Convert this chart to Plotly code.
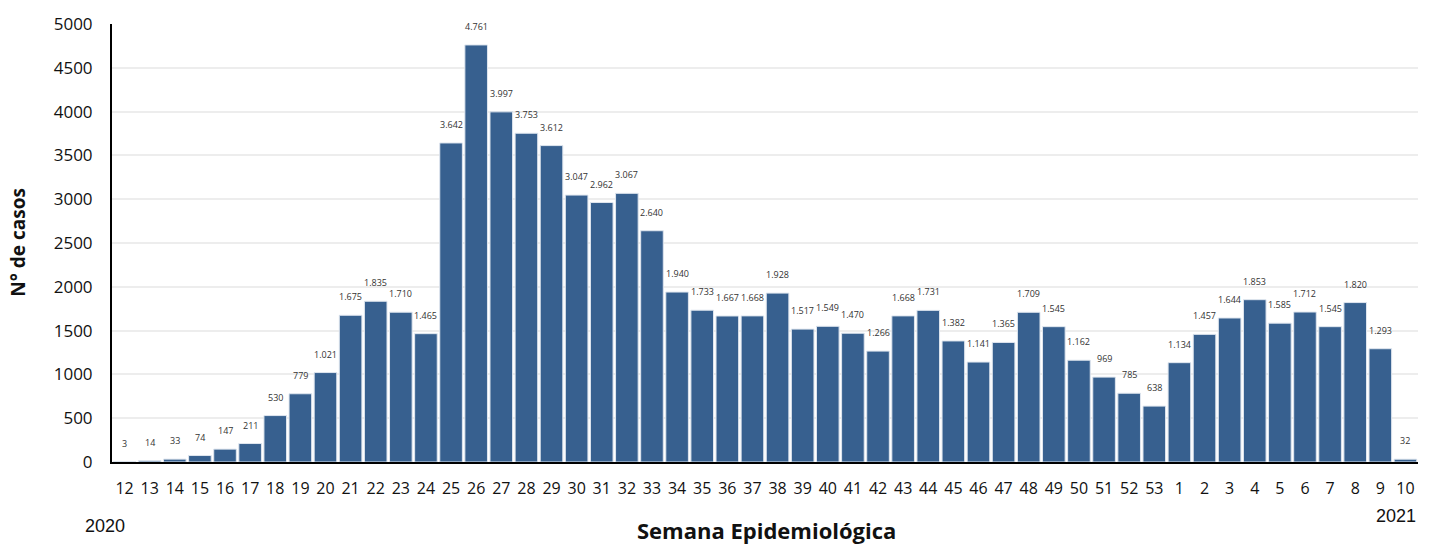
import plotly.graph_objects as go

weeks = [str(w) for w in range(12, 54)] + [str(w) for w in range(1, 11)]
cases = [3, 14, 33, 74, 147, 211, 530, 779, 1021, 1675, 1835, 1710, 1465, 3642, 4761,
         3997, 3753, 3612, 3047, 2962, 3067, 2640, 1940, 1733, 1667, 1668, 1928, 1517,
         1549, 1470, 1266, 1668, 1731, 1382, 1141, 1365, 1709, 1545, 1162, 969, 785, 638,
         1134, 1457, 1644, 1853, 1585, 1712, 1545, 1820, 1293, 32]
years = ["2020", "2021"]

xs = list(range(len(weeks)))
labels = [f"{v:,}".replace(",", ".") for v in cases]

fig = go.Figure()
fig.add_trace(go.Bar(
    x=xs, y=cases,
    marker=dict(color="#37608f", line=dict(color="#dfe6ef", width=1)),
    hoverinfo="x+y",
))

for x, v, t in zip(xs, cases, labels):
    fig.add_annotation(x=x, y=v, text=t, showarrow=False, yanchor="bottom", yshift=10,
                       font=dict(family="Open Sans", size=9, color="#333"))

fig.add_annotation(xref="paper", yref="paper", x=-0.0054, y=-0.145, text=years[0],
                   showarrow=False, xanchor="center", yanchor="middle",
                   font=dict(family="Liberation Sans", size=18, color="#111"))
fig.add_annotation(xref="paper", yref="paper", x=1.0, y=-0.124, text=years[1],
                   showarrow=False, xanchor="right", yanchor="middle",
                   font=dict(family="Liberation Sans", size=18, color="#111"))
fig.add_annotation(xref="paper", yref="paper", x=0.501, y=-0.156, text="<b>Semana Epidemiológica</b>",
                   showarrow=False, xanchor="center", yanchor="middle",
                   font=dict(family="Open Sans", size=22, color="#111"))
fig.add_annotation(xref="paper", yref="paper", x=-0.0715, y=0.502, text="<b>N° de casos</b>",
                   showarrow=False, textangle=-90, xanchor="center", yanchor="middle",
                   font=dict(family="Open Sans", size=19, color="#111"))

fig.update_layout(
    width=1433, height=545,
    margin=dict(l=112, r=15, t=20, b=83),
    plot_bgcolor="white", paper_bgcolor="white",
    bargap=0.1,
    showlegend=False,
    font=dict(family="Open Sans", size=16, color="#111"),
)
fig.update_xaxes(
    tickmode="array", tickvals=xs, ticktext=weeks,
    range=[-0.5, len(weeks) - 0.5],
    showline=True, linecolor="black", linewidth=2,
    showgrid=False, ticks="", ticklabelstandoff=11,
    tickfont=dict(family="Open Sans", size=16, color="#111"),
)
fig.update_yaxes(
    range=[0, 5000], dtick=500,
    showline=True, linecolor="black", linewidth=2,
    showgrid=True, gridcolor="#ededed", gridwidth=1.5,
    zeroline=False, ticks="", ticklabelstandoff=14,
    tickfont=dict(family="Open Sans", size=17, color="#111"),
)

fig.write_html("out.html", config={"displayModeBar": False},
               post_script="document.body.style.margin='0';document.body.style.overflow='hidden';")
